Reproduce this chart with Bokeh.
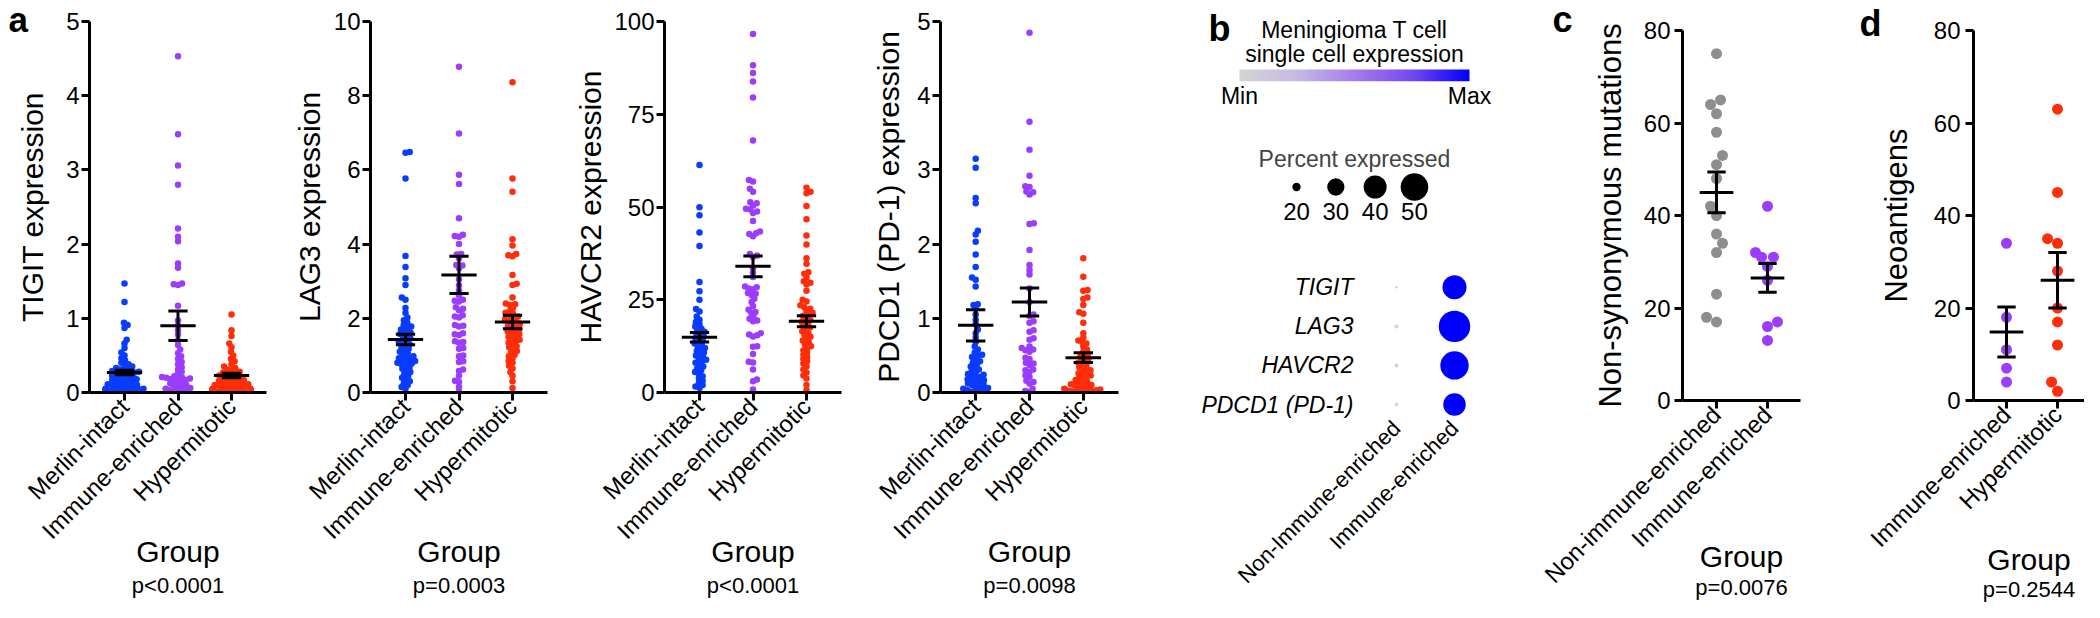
import numpy as np
from bokeh.plotting import figure
from bokeh.models import Range1d, FixedTicker, Label, LinearColorMapper, ColumnDataSource, Title
from bokeh.layouts import row, column
from bokeh.embed import file_html
from bokeh.resources import INLINE

FONT = "Liberation Sans"

# ---------------- data ----------------
a_groups = ["Merlin-intact", "Immune-enriched", "Hypermitotic"]
a_colors = ["#0a3cff", "#9b3cff", "#ff2d0a"]

tigit_merlin = [1.47, 1.22, 0.94, 0.91, 0.87, 0.71, 0.66, 0.60, 0.54, 0.50, 0.46, 0.43, 0.40, 0.38, 0.36,
                0.35, 0.33, 0.32, 0.31, 0.30, 0.29, 0.28, 0.27, 0.27, 0.26, 0.25, 0.24, 0.23, 0.22, 0.21,
                0.20, 0.19, 0.18, 0.18, 0.17, 0.16, 0.15, 0.14, 0.13, 0.12, 0.11, 0.10, 0.10, 0.09, 0.08,
                0.07, 0.07, 0.06, 0.05, 0.05, 0.04, 0.04, 0.03, 0.03, 0.02, 0.02, 0.01, 0.01, 0.01, 0.00]
tigit_immune = [4.53, 3.48, 3.06, 2.80, 2.21, 2.10, 2.04, 1.74, 1.68, 1.47, 1.46, 1.45, 1.17, 0.97, 0.90,
                0.84, 0.78, 0.70, 0.64, 0.58, 0.53, 0.49, 0.45, 0.41, 0.38, 0.34, 0.31, 0.28, 0.25, 0.22,
                0.21, 0.20, 0.20, 0.19, 0.19, 0.18, 0.17, 0.16, 0.14, 0.13, 0.12, 0.10, 0.09, 0.08, 0.07,
                0.06, 0.05, 0.04, 0.03, 0.02, 0.01, 0.01]
tigit_hyper = [1.05, 0.84, 0.76, 0.66, 0.61, 0.55, 0.50, 0.45, 0.42, 0.38, 0.35, 0.33, 0.31, 0.30, 0.28,
               0.27, 0.26, 0.25, 0.24, 0.23, 0.22, 0.21, 0.20, 0.19, 0.18, 0.17, 0.16, 0.15, 0.14, 0.13,
               0.12, 0.12, 0.11, 0.10, 0.09, 0.09, 0.08, 0.07, 0.07, 0.06, 0.06, 0.05, 0.05, 0.04, 0.04,
               0.03, 0.03, 0.03, 0.02, 0.02, 0.02, 0.01, 0.01, 0.01, 0.01, 0.00, 0.00]
tigit_mean = [0.27, 0.90, 0.23]
tigit_sem = [0.03, 0.20, 0.03]

lag3_merlin = [6.48, 6.46, 5.77, 3.68, 3.38, 3.08, 2.90, 2.56, 2.50, 2.28, 2.14, 2.02, 1.95, 1.88, 1.82,
               1.78, 1.75, 1.70, 1.65, 1.62, 1.58, 1.55, 1.50, 1.46, 1.42, 1.38, 1.35, 1.30, 1.26, 1.22,
               1.18, 1.14, 1.10, 1.06, 1.02, 0.98, 0.95, 0.92, 0.90, 0.88, 0.85, 0.83, 0.80, 0.78, 0.76,
               0.72, 0.68, 0.64, 0.60, 0.55, 0.50, 0.45, 0.40, 0.35, 0.30, 0.25, 0.20, 0.15, 0.10]
lag3_immune = [8.78, 6.98, 5.87, 5.62, 4.70, 4.25, 4.22, 4.20, 4.00, 3.73, 3.72, 3.62, 3.44, 3.42, 3.35,
               3.05, 2.89, 2.75, 2.62, 2.50, 2.47, 2.45, 2.30, 2.26, 2.22, 2.08, 2.05, 2.02, 1.82, 1.80,
               1.78, 1.60, 1.57, 1.55, 1.38, 1.36, 1.34, 1.20, 1.18, 1.00, 0.98, 0.84, 0.82, 0.62, 0.58,
               0.45, 0.32, 0.28, 0.15, 0.03]
lag3_hyper = [8.36, 5.77, 5.41, 4.13, 3.96, 3.73, 3.70, 3.67, 3.17, 2.93, 2.90, 2.56, 2.40, 2.38, 2.36,
              2.28, 2.20, 2.15, 2.12, 2.08, 2.05, 2.00, 1.98, 1.95, 1.90, 1.88, 1.85, 1.80, 1.78, 1.75,
              1.72, 1.68, 1.65, 1.62, 1.58, 1.55, 1.50, 1.46, 1.42, 1.38, 1.35, 1.30, 1.25, 1.22, 1.18,
              1.12, 1.08, 1.02, 0.98, 0.92, 0.85, 0.80, 0.72, 0.65, 0.55, 0.45, 0.30, 0.12]
lag3_mean = [1.43, 3.17, 1.90]
lag3_sem = [0.14, 0.50, 0.18]

havcr2_merlin = [61.3, 49.9, 47.8, 43.1, 39.5, 29.8, 27.3, 25.0, 22.5, 21.8, 20.5, 19.6, 19.0, 18.4, 17.8,
                 17.2, 16.8, 16.4, 16.0, 15.6, 15.2, 14.8, 14.4, 14.0, 13.6, 13.2, 12.8, 12.4, 12.0, 11.6,
                 11.2, 10.8, 10.4, 10.0, 9.6, 9.2, 8.8, 8.4, 8.0, 7.5, 7.0, 6.5, 6.0, 5.5, 5.0,
                 4.4, 3.8, 3.2, 2.6, 2.0, 1.6, 1.2]
havcr2_immune = [96.6, 88.2, 86.1, 83.8, 79.5, 67.9, 57.3, 56.9, 54.9, 54.1, 51.3, 51.0, 50.4, 49.5, 49.3,
                 48.8, 48.4, 46.2, 43.4, 42.9, 42.7, 42.1, 37.3, 36.9, 36.5, 33.5, 32.3, 31.1, 28.6, 28.4,
                 28.0, 27.8, 26.8, 26.6, 26.2, 25.3, 24.4, 23.3, 22.3, 21.7, 21.4, 20.4, 19.9, 19.4, 19.2,
                 16.0, 15.6, 15.4, 15.1, 12.5, 12.3, 10.4, 8.3, 8.1, 6.2, 3.5, 3.0, 0.8]
havcr2_hyper = [55.2, 54.1, 53.7, 50.3, 46.7, 42.3, 39.9, 36.2, 34.7, 32.4, 32.0, 31.0, 30.0, 29.6, 29.1,
                27.4, 25.0, 24.5, 23.5, 23.0, 22.6, 22.0, 21.5, 21.0, 20.6, 20.0, 19.5, 19.0, 18.6, 18.0,
                17.5, 17.0, 16.5, 16.0, 15.5, 15.0, 14.5, 14.0, 13.5, 13.0, 12.5, 12.0, 11.4, 10.8, 10.2,
                9.6, 9.0, 8.4, 7.8, 7.0, 6.2, 5.4, 4.6, 3.8, 2.0, 0.6]
havcr2_mean = [14.9, 34.0, 19.2]
havcr2_sem = [1.3, 2.8, 1.5]

pdcd1_merlin = [3.15, 3.03, 2.62, 2.55, 2.18, 2.13, 2.03, 1.86, 1.69, 1.55, 1.52, 1.43, 1.19, 1.18, 1.13,
                1.05, 0.98, 0.92, 0.85, 0.80, 0.74, 0.68, 0.62, 0.58, 0.54, 0.51, 0.50, 0.48, 0.45, 0.42,
                0.40, 0.38, 0.35, 0.33, 0.31, 0.29, 0.27, 0.25, 0.24, 0.22, 0.21, 0.20, 0.18, 0.17, 0.16,
                0.15, 0.14, 0.12, 0.11, 0.10, 0.08, 0.07, 0.06, 0.05, 0.04, 0.03, 0.02, 0.01, 0.01]
pdcd1_immune = [4.85, 3.65, 3.27, 2.92, 2.78, 2.77, 2.71, 2.70, 2.67, 2.28, 2.27, 1.92, 1.72, 1.65, 1.59,
                1.40, 1.22, 1.05, 1.03, 0.96, 0.94, 0.84, 0.82, 0.73, 0.71, 0.62, 0.60, 0.58, 0.57, 0.55,
                0.47, 0.45, 0.40, 0.39, 0.37, 0.31, 0.30, 0.28, 0.23, 0.21, 0.16, 0.14, 0.12, 0.05, 0.02, 0.01]
pdcd1_hyper = [1.81, 1.56, 1.38, 1.37, 1.28, 1.26, 1.18, 1.08, 1.06, 0.94, 0.80, 0.74, 0.70, 0.68, 0.66,
               0.62, 0.58, 0.55, 0.52, 0.50, 0.48, 0.46, 0.44, 0.42, 0.40, 0.38, 0.36, 0.34, 0.32, 0.30,
               0.28, 0.26, 0.25, 0.23, 0.22, 0.20, 0.18, 0.17, 0.15, 0.14, 0.12, 0.11, 0.10, 0.09, 0.08,
               0.07, 0.06, 0.05, 0.04, 0.03, 0.03, 0.02, 0.02, 0.01, 0.01, 0.00, 0.00]
pdcd1_mean = [0.905, 1.22, 0.47]
pdcd1_sem = [0.21, 0.19, 0.065]

a_pvalues = ["p<0.0001", "p=0.0003", "p<0.0001", "p=0.0098"]

# panel b (dot plot)
b_genes = ["TIGIT", "LAG3", "HAVCR2", "PDCD1 (PD-1)"]
b_groups = ["Non-Immune-enriched", "Immune-enriched"]
b_pct_non = [17.3, 17.7, 17.7, 17.6]
b_pct_imm = [42, 60, 52, 39]
b_expr_non = [0.0, 0.0, 0.0, 0.0]
b_expr_imm = [1.0, 1.0, 1.0, 1.0]
b_legend_pct = [20, 30, 40, 50]
b_title = ["Meningioma T cell", "single cell expression"]

# panel c
c_groups = ["Non-immune-enriched", "Immune-enriched"]
c_colors = ["#8e8e8e", "#9b3cff"]
c_nonimmune = [75, 65, 64, 62, 58, 53, 51, 48, 42, 40, 36, 34, 32, 23, 18, 17]
c_immune = [42, 32, 31, 31, 29, 26, 17, 16, 13]
c_mean = [45.0, 26.5]
c_sem = [4.4, 3.1]
c_pvalue = "p=0.0076"

# panel d
d_groups = ["Immune-enriched", "Hypermitotic"]
d_colors = ["#9b3cff", "#ff2d0a"]
d_immune = [34, 18, 11, 7, 4]
d_hyper = [63, 45, 35, 34, 28, 20, 17, 12, 4, 2]
d_mean = [14.8, 26.0]
d_sem = [5.4, 6.0]
d_pvalue = "p=0.2544"

H = 602


def swarm(vals, py, dist, cap):
    vals = np.asarray(vals, float)
    order = np.argsort(vals, kind="stable")
    placed = []
    xs = np.zeros(len(vals))
    for k, i in enumerate(order):
        y = vals[i] * py
        cands = [0.0]
        for (yy, xx) in placed:
            dy = abs(y - yy)
            if dy < dist:
                dx = np.sqrt(dist ** 2 - dy ** 2)
                cands += [xx + dx, xx - dx]
        sgn = 1 if k % 2 else -1
        cands.sort(key=lambda c: (round(abs(c), 4), sgn * c))
        chosen = cands[-1]
        for c in cands:
            if all((c - xx) ** 2 + (y - yy) ** 2 >= dist ** 2 - 1e-6 for (yy, xx) in placed):
                chosen = c
                break
        chosen = float(np.clip(chosen, -cap, cap))
        xs[i] = chosen
        placed.append((y, chosen))
    return xs


def style_axis(ax, size="24px"):
    ax.axis_line_width = 3
    ax.axis_line_color = "black"
    ax.major_tick_line_width = 3
    ax.major_tick_line_color = "black"
    ax.major_tick_out = 8
    ax.major_tick_in = 0
    ax.minor_tick_out = 0
    ax.minor_tick_in = 0
    ax.major_label_text_font = FONT
    ax.major_label_text_font_size = size
    ax.major_label_text_color = "black"
    ax.axis_label_text_font = FONT
    ax.axis_label_text_font_style = "normal"
    ax.axis_label_text_color = "black"


def scatter_panel(width, bl, br, top, frame_w, frame_h, xr, ymax, yticks, ylabel, ylab_size,
                  ylab_standoff, ytick_standoff, groups, colors, values, means, sems, pval,
                  dot, dist, cap, group_standoff, p_standoff, letter, letter_offset, letter_standoff,
                  letter_size="36px"):
    p = figure(width=width, height=H, x_range=Range1d(*xr), y_range=Range1d(0, ymax),
               output_backend="svg", toolbar_location=None, frame_align=False,
               min_border_left=bl, min_border_right=br, min_border_top=top,
               min_border_bottom=H - top - frame_h)
    p.grid.visible = False
    p.outline_line_color = None
    px_x = frame_w / (xr[1] - xr[0])
    px_y = frame_h / ymax
    for g, (vals, col) in enumerate(zip(values, colors)):
        offs = swarm(vals, px_y, dist, cap) / px_x
        src = ColumnDataSource(dict(x=(g + 1) + offs, y=vals))
        p.scatter("x", "y", source=src, size=dot, fill_color=col, line_color=None)
    cx = np.arange(1, len(groups) + 1, dtype=float)
    m = np.asarray(means, float)
    s = np.asarray(sems, float)
    mw, cw = 0.33, 0.18
    seg = dict(x0=np.concatenate([cx - mw, cx - cw, cx - cw, cx]),
               x1=np.concatenate([cx + mw, cx + cw, cx + cw, cx]),
               y0=np.concatenate([m, m + s, m - s, m - s]),
               y1=np.concatenate([m, m + s, m - s, m + s]))
    p.segment("x0", "y0", "x1", "y1", source=ColumnDataSource(seg), line_color="black",
              line_width=3)
    xa = p.xaxis[0]
    ya = p.yaxis[0]
    style_axis(xa)
    style_axis(ya)
    xa.ticker = FixedTicker(ticks=list(cx))
    xa.major_label_overrides = {i + 1: gname for i, gname in enumerate(groups)}
    xa.major_label_orientation = np.pi / 4
    xa.major_label_standoff = 2
    xa.axis_label = "Group"
    xa.axis_label_text_font_size = "30px"
    xa.axis_label_standoff = group_standoff
    ya.ticker = FixedTicker(ticks=yticks)
    ya.major_label_standoff = ytick_standoff
    ya.axis_label = ylabel
    ya.axis_label_text_font_size = ylab_size
    ya.axis_label_standoff = ylab_standoff
    p.add_layout(Title(text=pval, align="center", vertical_align="bottom", standoff=p_standoff,
                       text_font=FONT, text_font_size="22px", text_font_style="normal",
                       text_color="black"), "below")
    if letter:
        p.title.text = letter
        p.title.align = "left"
        p.title.offset = letter_offset
        p.title.vertical_align = "bottom"
        p.title.standoff = letter_standoff
        p.title.text_font = FONT
        p.title.text_font_size = letter_size
        p.title.text_font_style = "bold"
        p.title.text_color = "black"
    return p


XA = (0.346, 3.654)
A_TOP, A_FH = 21, 371
a1 = scatter_panel(282, 89, 16, A_TOP, 177, A_FH, XA, 5, [0, 1, 2, 3, 4, 5], "TIGIT expression",
                   "30px", 14, 2, a_groups, a_colors, [tigit_merlin, tigit_immune, tigit_hyper],
                   tigit_mean, tigit_sem, a_pvalues[0], 6.5, 4.3, 19, -22, 0, "a", -81, -34, "35px")
a2 = scatter_panel(285, 88, 20, A_TOP, 177, A_FH, XA, 10, [0, 2, 4, 6, 8, 10], "LAG3 expression",
                   "30px", 5, 2, a_groups, a_colors, [lag3_merlin, lag3_immune, lag3_hyper],
                   lag3_mean, lag3_sem, a_pvalues[1], 6.5, 4.3, 19, -22, 0, None, 0, 0)
a3 = scatter_panel(295, 97, 21, A_TOP, 177, A_FH, XA, 100, [0, 25, 50, 75, 100], "HAVCR2 expression",
                   "30px", 4, 2, a_groups, a_colors, [havcr2_merlin, havcr2_immune, havcr2_hyper],
                   havcr2_mean, havcr2_sem, a_pvalues[2], 6.5, 4.3, 19, -22, 0, None, 0, 0)
a4 = scatter_panel(270, 78, 14, A_TOP, 178, A_FH, XA, 5, [0, 1, 2, 3, 4, 5], "PDCD1 (PD-1) expression",
                   "30px", 9, 2, a_groups, a_colors, [pdcd1_merlin, pdcd1_immune, pdcd1_hyper],
                   pdcd1_mean, pdcd1_sem, a_pvalues[3], 6.5, 4.3, 19, -22, 0, None, 0, 0)

c = scatter_panel(320, 155, 47, 30, 118, 370, (0.333, 2.647), 80, [0, 20, 40, 60, 80],
                  "Non-synonymous mutations", "31px", 13, 4, c_groups, c_colors,
                  [c_nonimmune, c_immune], c_mean, c_sem, c_pvalue, 11, 11, 12, -60, -7,
                  "c", -130, -18)
d = scatter_panel(237, 126, 0, 30, 111, 370, (0.353, 2.529), 80, [0, 20, 40, 60, 80],
                  "Neoantigens", "31px", 17, 5, d_groups, d_colors,
                  [d_immune, d_hyper], d_mean, d_sem, d_pvalue, 11, 11, 12, -22, -7,
                  "d", -114, -26)

# ---------------- panel b ----------------
stops = [(0.0, (212, 212, 212)), (0.25, (198, 186, 228)), (0.5, (165, 125, 236)),
         (0.75, (118, 72, 242)), (1.0, (0, 0, 255))]
palette = []
for t in np.linspace(0, 1, 256):
    for (t0, c0), (t1, c1) in zip(stops[:-1], stops[1:]):
        if t0 <= t <= t1:
            f = (t - t0) / (t1 - t0)
            rgb = [int(round(a + (b_ - a) * f)) for a, b_ in zip(c0, c1)]
            palette.append("#%02x%02x%02x" % tuple(rgb))
            break
mapper = LinearColorMapper(palette=palette, low=0, high=1)


def dot_diam(pct):
    return np.sqrt(23.0 * (np.asarray(pct, float) - 17.0))


BW = 395
# colour bar figure: frame spans page x 1215..1500, y 8..89 ; bar itself = x 0..1, y 0..1
b1 = figure(width=BW, height=112, x_range=Range1d(-0.139, 1.1), y_range=Range1d(0, 6.75),
            output_backend="svg", toolbar_location=None, y_axis_location=None, frame_align=False,
            min_border_left=75, min_border_right=35, min_border_top=0, min_border_bottom=31)
b1.grid.visible = False
b1.outline_line_color = None
b1.image(image=[np.linspace(0, 1, 256).reshape(1, 256)], x=0, y=0, dw=1, dh=1, color_mapper=mapper)
ax = b1.xaxis[0]
style_axis(ax, "23px")
ax.axis_line_color = None
ax.major_tick_line_color = None
ax.major_tick_out = 0
ax.ticker = FixedTicker(ticks=[0, 1])
ax.major_label_overrides = {0: "Min", 1: "Max"}
ax.major_label_standoff = 1
for txt, yy in zip(b_title, [51.5, 28.0]):
    b1.add_layout(Label(x=147, y=yy, x_units="screen", y_units="screen", text=txt, text_font=FONT,
                        text_font_size="23px", text_align="center", text_baseline="middle",
                        text_color="black"))
b1.add_layout(Label(x=12, y=53.5, x_units="screen", y_units="screen", text="b", text_font=FONT,
                    text_font_size="36px", text_font_style="bold", text_align="center",
                    text_baseline="alphabetic", text_color="black"))

b2 = figure(width=BW, height=120, x_range=Range1d(5.5, 64.0), y_range=Range1d(-1, 1),
            output_backend="svg", toolbar_location=None, y_axis_location=None, frame_align=False,
            min_border_left=107, min_border_right=58, min_border_top=60, min_border_bottom=31)
b2.grid.visible = False
b2.outline_line_color = None
b2.scatter(x=b_legend_pct, y=[0] * len(b_legend_pct), size=dot_diam(b_legend_pct),
           fill_color="black", line_color=None)
ax = b2.xaxis[0]
style_axis(ax, "24px")
ax.axis_line_color = None
ax.major_tick_line_color = None
ax.major_tick_out = 0
ax.ticker = FixedTicker(ticks=b_legend_pct)
ax.major_label_standoff = 1
b2.title.text = "Percent expressed"
b2.title.align = "center"
b2.title.text_font = FONT
b2.title.text_font_size = "23px"
b2.title.text_font_style = "normal"
b2.title.standoff = 2

b3 = figure(width=BW, height=370, x_range=Range1d(0.414, 2.655), y_range=Range1d(0.54, 4.635),
            output_backend="svg", toolbar_location=None, frame_align=False,
            min_border_left=230, min_border_right=35, min_border_top=30, min_border_bottom=180)
b3.grid.visible = False
b3.outline_line_color = None
ng = len(b_genes)
gy = list(range(ng, 0, -1))
bsrc = ColumnDataSource(dict(
    x=[1] * ng + [2] * ng,
    y=gy + gy,
    size=list(dot_diam(b_pct_non)) + list(dot_diam(b_pct_imm)),
    expr=b_expr_non + b_expr_imm))
b3.scatter("x", "y", source=bsrc, size="size",
           fill_color={"field": "expr", "transform": mapper}, line_color=None)
for ax in (b3.xaxis[0], b3.yaxis[0]):
    style_axis(ax, "23px")
    ax.axis_line_color = None
    ax.major_tick_line_color = None
    ax.major_tick_out = 0
b3.xaxis[0].major_label_text_font_size = "22px"
b3.yaxis[0].ticker = FixedTicker(ticks=gy)
b3.yaxis[0].major_label_overrides = {gy[i]: b_genes[i] for i in range(ng)}
b3.yaxis[0].major_label_text_font_style = "italic"
b3.yaxis[0].major_label_standoff = 9
b3.xaxis[0].ticker = FixedTicker(ticks=[1, 2])
b3.xaxis[0].major_label_overrides = {1: b_groups[0], 2: b_groups[1]}
b3.xaxis[0].major_label_orientation = np.pi / 4
b3.xaxis[0].major_label_standoff = 2

bcol = column(b1, b2, b3, spacing=0)
layout = row(a1, a2, a3, a4, bcol, c, d, spacing=0)

open("out.html", "w").write(file_html(layout, INLINE))
